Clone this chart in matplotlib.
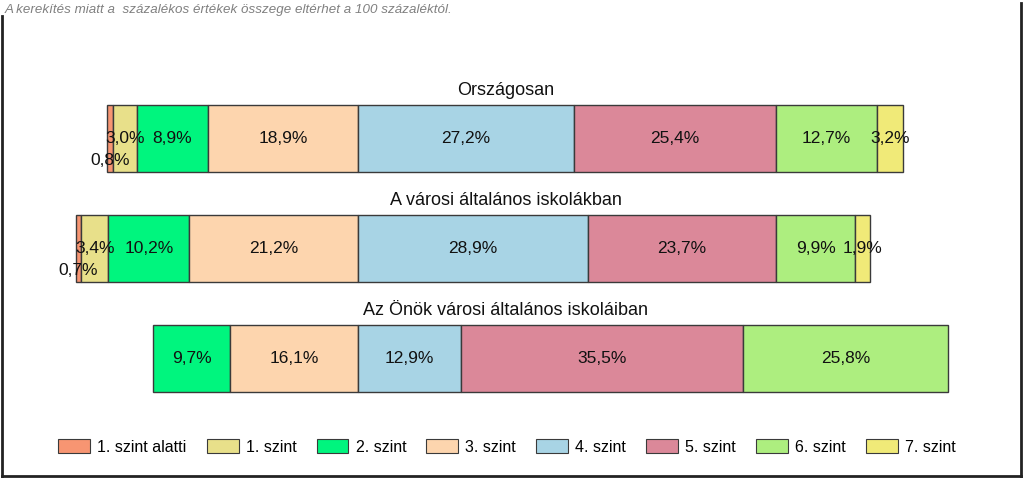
import matplotlib
matplotlib.use("Agg")
import matplotlib.pyplot as plt
from matplotlib.patches import Patch
from matplotlib.lines import Line2D
import numpy as np

plt.rcParams["font.family"] = ["Liberation Sans", "DejaVu Sans"]

# data
groups = ["Országosan", "A városi általános iskolákban", "Az Önök városi általános iskoláiban"]
levels = ["1. szint alatti", "1. szint", "2. szint", "3. szint",
          "4. szint", "5. szint", "6. szint", "7. szint"]
orszagos = [0.8, 3.0, 8.9, 18.9, 27.2, 25.4, 12.7, 3.2]
varosi = [0.7, 3.4, 10.2, 21.2, 28.9, 23.7, 9.9, 1.9]
onok = [0.0, 0.0, 9.7, 16.1, 12.9, 35.5, 25.8, 0.0]
colors = ["#F79572", "#E8E08A", "#00F57E", "#FDD5AE",
          "#A8D4E5", "#DB8899", "#ADEE7F", "#F0EA78"]

n_left = 4  # below 1 .. level 3 go left of zero

fig = plt.figure(figsize=(10.24, 4.78), dpi=100)
W, H = 1024, 478
# axes: x pixels 50..980, y pixels 60..420
ax = fig.add_axes([50 / W, 1 - 420 / H, 930 / W, 360 / H])
ax.set_xlim(-(358 - 50) / 7.95, (980 - 358) / 7.95)
ax.set_ylim(2.559, -0.714)
ax.axis("off")

bar_h = 0.61
for i, (name, vals) in enumerate(zip(groups, [orszagos, varosi, onok])):
    vals = np.array(vals)
    left = -vals[:n_left].sum()
    for j, v in enumerate(vals):
        if v > 0:
            ax.barh(i, v, left=left, height=bar_h, color=colors[j],
                    edgecolor="#3a3a3a", linewidth=1.0)
            dy = 0.2 if j == 0 else 0.0
            ax.text(left + v / 2, i + dy, f"{v:.1f}%".replace(".", ","),
                    ha="center", va="center", fontsize=12.5, color="#111111")
        left += v
    ax.text(0.49, i - 0.44, name, transform=ax.get_yaxis_transform(),
            ha="center", va="center", fontsize=13, color="#111111")

# legend
handles = [Patch(facecolor=c, edgecolor="#3a3a3a", linewidth=0.8) for c in colors]
fig.legend(handles, levels, loc="center", bbox_to_anchor=(507 / W, 1 - 447 / H),
           ncol=8, frameon=False, fontsize=11.5, handlelength=2.0, handleheight=1.0,
           handletextpad=0.45, columnspacing=1.25)

# note at top
fig.text(5 / W, 1 - 10 / H,
         "A kerekítés miatt a  százalékos értékek összege eltérhet a 100 százaléktól.",
         ha="left", va="center", fontsize=9.6, style="italic", color="#808080")

# frame
fr = dict(color="#222222", linewidth=2.0, transform=fig.transFigure)
fig.lines.append(Line2D([2 / W, 2 / W], [0, 1 - 16 / H], **fr))
fig.lines.append(Line2D([1021 / W, 1021 / W], [0, 1 - 3 / H], **fr))
fig.lines.append(Line2D([2 / W, 1021 / W], [2 / H, 2 / H], **fr))

fig.savefig("out.png", dpi=100)
